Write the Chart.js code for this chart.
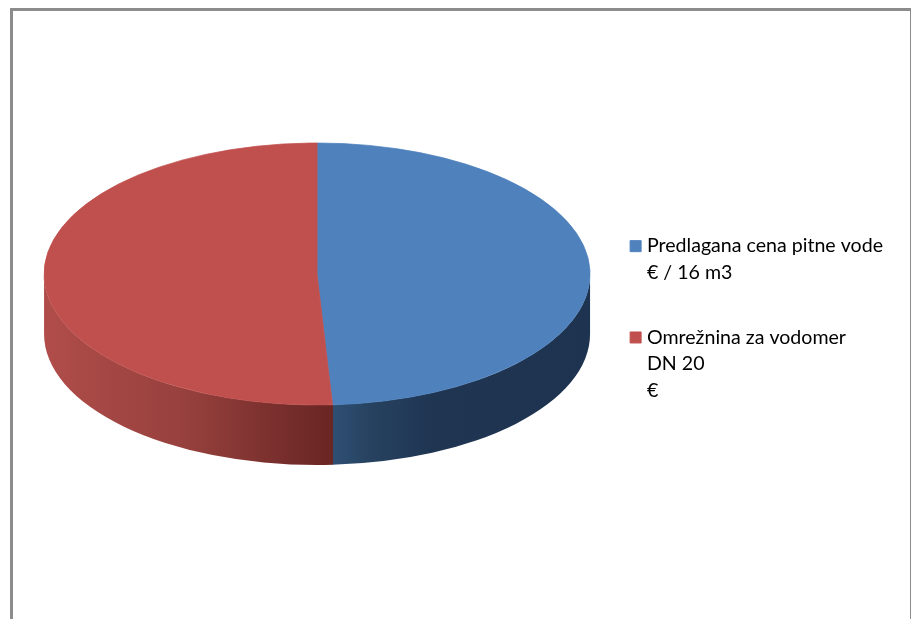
<!DOCTYPE html>
<html lang="en">
<head>
    <meta charset="UTF-8">
    <title>Pie chart</title>
    <style>
        html, body { margin: 0; padding: 0; background: #fff; overflow: hidden; }
        #frame { position: absolute; left: 10px; top: 8px; width: 897px; height: 700px; border: 3px solid #8c8c8c; }
        #myChart { position: absolute; left: 0; top: 0; }
    </style>
</head>
<body>
    <div id="frame"></div>
    <canvas id="myChart" width="911" height="619"></canvas>

    <script src="https://cdn.jsdelivr.net/npm/chart.js@4/dist/chart.umd.js"></script>
    <script>
        var categories = [
            ['Predlagana cena pitne vode', '€ / 16 m3'],
            ['Omrežnina za vodomer', 'DN 20', '€']
        ];
        var shares = [49.1, 50.9];
        var colors = ['#4f81bd', '#c0504d'];
        var wallColors = [
            [[0, '#2f4f74'], [0.15, '#26425f'], [0.4, '#1f3552'], [1, '#1d334f']],
            [[0, '#b04d4a'], [0.5, '#96403d'], [0.85, '#752d2b'], [1, '#6a2624']]
        ];

        var squash = 131 / 273;   // top face is an ellipse
        var topCenterY = 274;
        var depth = 60;

        // tilts the pie and draws the side wall under it
        var tiltPlugin = {
            id: 'tilt',
            beforeDatasetsDraw: function(chart) {
                var ctx = chart.ctx;
                var arcs = chart.getDatasetMeta(0).data;
                for (var i = 0; i < arcs.length; i++) {
                    var arc = arcs[i];
                    var a0 = Math.max(arc.startAngle, 0);
                    var a1 = Math.min(arc.endAngle, Math.PI);
                    if (a1 <= a0) continue;
                    var rx = arc.outerRadius, ry = rx * squash;
                    var x0 = arc.x + rx * Math.cos(a0);
                    var x1 = arc.x + rx * Math.cos(a1);
                    var grad = ctx.createLinearGradient(Math.min(x0, x1), 0, Math.max(x0, x1), 0);
                    wallColors[i].forEach(function(s) { grad.addColorStop(s[0], s[1]); });
                    // small overlap so no light seam shows between the walls
                    ctx.beginPath();
                    ctx.ellipse(arc.x, topCenterY, rx, ry, 0, a0 - 0.002, a1);
                    ctx.ellipse(arc.x, topCenterY + depth, rx, ry, 0, a1, a0 - 0.002, true);
                    ctx.closePath();
                    ctx.fillStyle = grad;
                    ctx.fill();
                }
                var cy = arcs[0].y;
                ctx.save();
                ctx.translate(0, topCenterY);
                ctx.scale(1, squash);
                ctx.translate(0, -cy);
            },
            afterDatasetsDraw: function(chart) {
                chart.ctx.restore();
            }
        };

        new Chart(document.getElementById('myChart'), {
            type: 'pie',
            data: {
                labels: categories,
                datasets: [{
                    data: shares,
                    backgroundColor: colors,
                    borderColor: colors,
                    borderWidth: 1,
                    radius: 273
                }]
            },
            options: {
                responsive: false,
                animation: false,
                layout: { padding: { left: 38, right: 18, top: 44, bottom: 19 } },
                plugins: {
                    tooltip: { enabled: false },
                    legend: {
                        position: 'right',
                        labels: {
                            usePointStyle: true,
                            pointStyle: 'rect',
                            boxWidth: 3,
                            boxHeight: 11,
                            padding: 38,
                            color: '#000',
                            font: { family: 'Lato', size: 19.6, lineHeight: 1.36 }
                        }
                    }
                }
            },
            plugins: [tiltPlugin]
        });
    </script>
</body>
</html>
